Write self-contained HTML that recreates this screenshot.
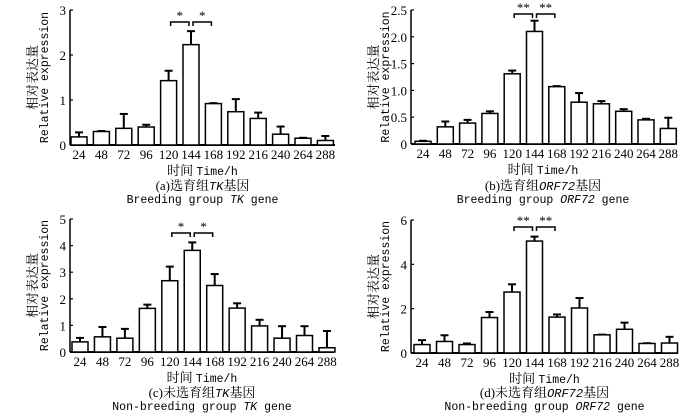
<!DOCTYPE html>
<html><head><meta charset="utf-8"><style>
body{margin:0;background:#fff;width:700px;height:415px;overflow:hidden}
svg text{fill:#000}
.tk{font:13px "Liberation Serif","Noto Serif CJK SC",serif}
.mono{font:11.5px "Liberation Mono","Noto Serif CJK SC",monospace}
.cjk{font:13px "Liberation Serif","Noto Serif CJK SC",serif}
</style></head><body>
<svg id="fig" width="700" height="415" viewBox="0 0 700 415" xmlns="http://www.w3.org/2000/svg"></svg>
<script>
const categories = ["24","48","72","96","120","144","168","192","216","240","264","288"];
const valsA = [0.18,0.3,0.37,0.4,1.43,2.23,0.92,0.74,0.59,0.24,0.15,0.1];
const errA  = [0.1,0.01,0.32,0.05,0.22,0.3,0.01,0.28,0.13,0.17,0.01,0.1];
const ticksA = [0,1,2,3];
const valsB = [0.05,0.32,0.39,0.57,1.31,2.1,1.07,0.78,0.75,0.61,0.45,0.29];
const errB  = [0.01,0.1,0.06,0.04,0.06,0.2,0.01,0.17,0.05,0.04,0.02,0.2];
const ticksB = ["0","0.5","1.0","1.5","2.0","2.5"];
const valsC = [0.38,0.57,0.52,1.64,2.68,3.82,2.5,1.65,0.98,0.52,0.62,0.16];
const errC  = [0.15,0.37,0.35,0.14,0.53,0.3,0.43,0.18,0.23,0.45,0.35,0.63];
const ticksC = [0,1,2,3,4,5];
const valsD = [0.38,0.52,0.38,1.6,2.75,5.05,1.62,2.03,0.82,1.07,0.43,0.45];
const errD  = [0.2,0.28,0.05,0.25,0.35,0.2,0.12,0.45,0.01,0.3,0.01,0.28];
const ticksD = [0,2,4,6];

const NS="http://www.w3.org/2000/svg";
const svg=document.getElementById('fig');
function mk(tag,attrs,parent,txt){const e=document.createElementNS(NS,tag);for(const k in attrs)e.setAttribute(k,attrs[k]);if(txt!==undefined)e.textContent=txt;(parent||svg).appendChild(e);return e;}

function panel(id,cfg){
  const g=mk('g',{});
  
  
  const {ax,y0,yTop,ymax,x0,pitch,xEnd,vals,errs,ticks,stars,cap1,cap2,capY}=cfg;
  const ys=v=>y0-(v/ymax)*(y0-yTop);
  const xs=i=>x0+i*pitch;
  const bw=16;
  const yaxis=mk('line',{x1:ax,y1:y0,x2:ax,y2:yTop,stroke:'#000','stroke-width':1.5},g);
  
  
  const xaxis=mk('line',{x1:ax,y1:y0,x2:xEnd,y2:y0,stroke:'#000','stroke-width':2},g);
  
  
  ticks.forEach(t=>{
    const v=parseFloat(t);const y=ys(v);
    mk('line',{x1:ax,y1:y,x2:ax+3,y2:y,stroke:'#000','stroke-width':1.2},g);
    const tl=mk('text',{x:ax-4,y:y+5,'text-anchor':'end',class:'tk'},g,String(t));
    
    
  });
  vals.forEach((v,i)=>{
    const cx=xs(i);
    const top=ys(v), et=ys(v+errs[i]);
    const el=mk('line',{x1:cx,y1:top,x2:cx,y2:et,stroke:'#000','stroke-width':2},g);
    
    
    mk('line',{x1:cx-4,y1:et,x2:cx+4,y2:et,stroke:'#000','stroke-width':2},g);
    const r=mk('rect',{x:cx-bw/2,y:top,width:bw,height:Math.max(0,y0-top),fill:'#fff',stroke:'#000','stroke-width':1.5},g);
    
    
    const tl=mk('text',{x:cx,y:y0+14,'text-anchor':'middle',class:'tk'},g,categories[i]);
    
    
  });
  const by=cfg.bracketY;
  [[4,5],[5,6]].forEach(([a,b])=>{
    const x1=xs(a)+2,x2=xs(b)-2;
    const p=mk('path',{d:`M${x1},${by+4}V${by}H${x2}V${by+4}`,fill:'none',stroke:'#000','stroke-width':1.5},g);
    
    
    const s=mk('text',{x:(x1+x2)/2,y:by-2,'text-anchor':'middle',class:'tk','font-weight':'bold'},g,stars);
    
    
  });
  const midX=(ax+xEnd)/2;
  const midY=(y0+yTop)/2;
  const t1=mk('text',{x:0,y:0,transform:`translate(${ax-33},${midY}) rotate(-90)`,'text-anchor':'middle',class:'cjk'},g,'相对表达量');
  
  
  const t2=mk('text',{x:0,y:0,transform:`translate(${ax-22},${midY}) rotate(-90)`,'text-anchor':'middle',class:'mono'},g,'Relative expression');
  
  
  const xt=mk('text',{x:midX,y:y0+30,'text-anchor':'middle',class:'mono'},g);
  
  
  mk('tspan',{class:'cjk'},xt,'时间 ');
  mk('tspan',{},xt,'Time/h');
  const c1=mk('text',{x:midX,y:capY,'text-anchor':'middle',class:'cjk'},g);
  
  
  cap1.forEach(([s,it])=>{mk('tspan',it?{'font-style':'italic',style:'font-family:"Liberation Mono",monospace;font-size:12px'}:{},c1,s);});
  const c2=mk('text',{x:midX,y:capY+13,'text-anchor':'middle',class:'mono'},g);
  
  
  cap2.forEach(([s,it])=>{mk('tspan',it?{'font-style':'italic'}:{},c2,s);});
}

panel('panel-a',{ax:70,y0:145,yTop:10,ymax:3,x0:79,pitch:22.4,xEnd:335,vals:valsA,errs:errA,ticks:ticksA,stars:'*',bracketY:22,
  cap1:[['(a)选育组',0],['TK',1],['基因',0]],cap2:[['Breeding group ',0],['TK',1],[' gene',0]],capY:190});
panel('panel-b',{ax:411,y0:144,yTop:10,ymax:2.5,x0:423,pitch:22.3,xEnd:675,vals:valsB,errs:errB,ticks:ticksB,stars:'**',bracketY:14,
  cap1:[['(b)选育组',0],['ORF72',1],['基因',0]],cap2:[['Breeding group ',0],['ORF72',1],[' gene',0]],capY:190});
panel('panel-c',{ax:70,y0:352,yTop:219,ymax:5,x0:80,pitch:22.45,xEnd:334,vals:valsC,errs:errC,ticks:ticksC,stars:'*',bracketY:233,
  cap1:[['(c)未选育组',0],['TK',1],['基因',0]],cap2:[['Non-breeding group ',0],['TK',1],[' gene',0]],capY:397});
panel('panel-d',{ax:411,y0:353,yTop:220,ymax:6,x0:422,pitch:22.5,xEnd:678,vals:valsD,errs:errD,ticks:ticksD,stars:'**',bracketY:227,
  cap1:[['(d)未选育组',0],['ORF72',1],['基因',0]],cap2:[['Non-breeding group ',0],['ORF72',1],[' gene',0]],capY:397});
</script>
</body></html>
